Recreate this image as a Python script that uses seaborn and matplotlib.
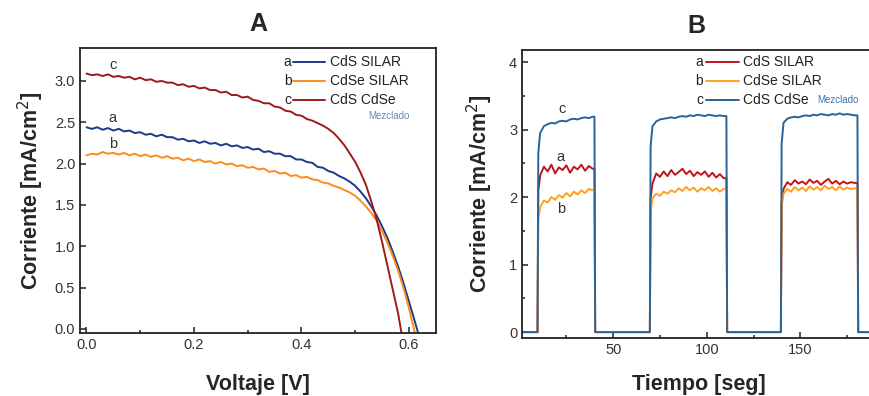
import numpy as np
import matplotlib
matplotlib.use('Agg')
import matplotlib.pyplot as plt
import seaborn as sns

# ---- Panel A: J-V curves (0.01 V steps, last point is Voc) ----
volt_a = list(np.round(np.arange(0, 0.615, 0.01), 2)) + [0.617]
curr_a = [2.44, 2.42, 2.44, 2.41, 2.43, 2.40, 2.42, 2.39, 2.40, 2.37, 2.38, 2.35, 2.36, 2.33,
          2.35, 2.32, 2.32, 2.29, 2.30, 2.27, 2.28, 2.25, 2.27, 2.24, 2.25, 2.22, 2.24, 2.21,
          2.22, 2.19, 2.20, 2.17, 2.18, 2.14, 2.15, 2.12, 2.12, 2.09, 2.09, 2.05, 2.05, 2.02,
          2.01, 1.96, 1.95, 1.91, 1.89, 1.85, 1.82, 1.78, 1.73, 1.66, 1.58, 1.48, 1.37, 1.24,
          1.10, 0.93, 0.75, 0.55, 0.33, 0.11, -0.05]

volt_b = list(np.round(np.arange(0, 0.605, 0.01), 2)) + [0.611]
curr_b = [2.10, 2.12, 2.11, 2.14, 2.12, 2.13, 2.11, 2.13, 2.10, 2.12, 2.09, 2.11, 2.08, 2.10,
          2.07, 2.09, 2.06, 2.07, 2.04, 2.06, 2.03, 2.05, 2.02, 2.03, 2.00, 2.02, 1.99, 2.00,
          1.97, 1.98, 1.95, 1.96, 1.93, 1.94, 1.90, 1.91, 1.88, 1.89, 1.85, 1.86, 1.83, 1.84,
          1.81, 1.80, 1.77, 1.76, 1.73, 1.71, 1.68, 1.65, 1.61, 1.55, 1.48, 1.40, 1.31, 1.18,
          1.04, 0.88, 0.70, 0.49, 0.25, -0.05]

volt_c = list(np.round(np.arange(0, 0.585, 0.01), 2)) + [0.586]
curr_c = [3.09, 3.07, 3.08, 3.06, 3.08, 3.05, 3.06, 3.04, 3.05, 3.02, 3.04, 3.01, 3.02, 2.99,
          3.00, 2.98, 2.98, 2.95, 2.96, 2.93, 2.94, 2.91, 2.92, 2.89, 2.89, 2.86, 2.87, 2.83,
          2.83, 2.80, 2.81, 2.77, 2.76, 2.73, 2.73, 2.69, 2.68, 2.64, 2.63, 2.59, 2.58, 2.54,
          2.52, 2.49, 2.46, 2.42, 2.37, 2.30, 2.22, 2.12, 2.02, 1.89, 1.74, 1.54, 1.32, 1.05,
          0.76, 0.47, 0.18, -0.05]

# ---- Panel B: photocurrent on/off ----
on_times = [10.0, 70.0, 140.0]
off_times = [40.0, 110.5, 180.5]
t_cycle1 = np.arange(11, 40, 2)
t_cycle2 = np.arange(71, 110, 2)
t_cycle3 = np.arange(141, 180, 2)

amp_a = [[2.32, 2.45, 2.38, 2.48, 2.35, 2.44, 2.40, 2.47, 2.36, 2.45, 2.41, 2.48, 2.39, 2.46, 2.42],
         [2.20, 2.35, 2.30, 2.38, 2.31, 2.40, 2.33, 2.37, 2.42, 2.34, 2.39, 2.31, 2.37, 2.33, 2.38,
          2.30, 2.36, 2.29, 2.34, 2.28],
         [2.12, 2.22, 2.18, 2.25, 2.20, 2.23, 2.19, 2.26, 2.21, 2.24, 2.18, 2.23, 2.27, 2.20, 2.24,
          2.19, 2.23, 2.20, 2.22, 2.21]]
amp_b = [[1.85, 1.95, 1.92, 2.00, 1.96, 2.03, 1.99, 2.06, 2.01, 2.08, 2.04, 2.10, 2.06, 2.12, 2.10],
         [1.98, 2.05, 2.02, 2.08, 2.05, 2.10, 2.07, 2.13, 2.09, 2.15, 2.10, 2.14, 2.08, 2.13, 2.10,
          2.15, 2.09, 2.13, 2.08, 2.12],
         [2.05, 2.12, 2.08, 2.15, 2.10, 2.14, 2.09, 2.16, 2.11, 2.15, 2.10, 2.17, 2.12, 2.15, 2.10,
          2.16, 2.11, 2.14, 2.12, 2.13]]
amp_c = [[2.95, 3.05, 3.08, 3.10, 3.09, 3.12, 3.13, 3.12, 3.15, 3.16, 3.15, 3.17, 3.18, 3.17, 3.19],
         [3.05, 3.12, 3.15, 3.16, 3.17, 3.18, 3.17, 3.19, 3.20, 3.19, 3.21, 3.20, 3.22, 3.21, 3.20,
          3.22, 3.21, 3.20, 3.21, 3.20],
         [3.10, 3.16, 3.18, 3.19, 3.18, 3.20, 3.21, 3.20, 3.22, 3.21, 3.23, 3.22, 3.21, 3.23, 3.22,
          3.24, 3.22, 3.23, 3.22, 3.21]]

labels = ['CdS SILAR', 'CdSe SILAR', 'CdS CdSe']
letters = ['a', 'b', 'c']
colors_a = ['#1c3a8a', '#ff8a1c', '#9e1a1a']
colors_b = ['#c0141c', '#ffa020', '#2a6496']


def onoff_series(amps):
    t, y = [1.5], [0.0]
    for on, off, tc, amp in zip(on_times, off_times, [t_cycle1, t_cycle2, t_cycle3], amps):
        t += [on - 0.4, on]
        y += [0.0, amp[0] * 0.9]
        t += list(tc)
        y += list(amp)
        t += [off, off + 0.4]
        y += [amp[-1], 0.0]
    t.append(190)
    y.append(0.0)
    return t, y


sns.set_theme(style='ticks')
plt.rcParams['font.family'] = ['Liberation Sans', 'DejaVu Sans']

fig = plt.figure(figsize=(8.7, 3.96), dpi=100)
ax1 = fig.add_axes([0.092, 0.159, 0.409, 0.720])
ax2 = fig.add_axes([0.600, 0.146, 0.406, 0.728])

for v, j, c in zip([volt_a, volt_b, volt_c], [curr_a, curr_b, curr_c], colors_a):
    sns.lineplot(x=v, y=j, ax=ax1, color=c, lw=1.4, estimator=None, sort=False)

for amps, c in zip([amp_a, amp_b, amp_c], colors_b):
    t, y = onoff_series(amps)
    sns.lineplot(x=t, y=y, ax=ax2, color=c, lw=1.4, estimator=None, sort=False)

ax1.set_xlim(-0.012, 0.65)
ax1.set_ylim(-0.05, 3.40)
ax1.set_xticks([0.0, 0.2, 0.4, 0.6])
ax1.set_yticks(np.arange(0, 3.01, 0.5))
ax1.set_xticks([0.1, 0.3, 0.5], minor=True)
ax1.xaxis.set_major_formatter(matplotlib.ticker.FormatStrFormatter('%.1f'))
ax1.yaxis.set_major_formatter(matplotlib.ticker.FormatStrFormatter('%.1f'))

ax2.set_xlim(1.3, 190)
ax2.set_ylim(-0.09, 4.18)
ax2.set_xticks([50, 100, 150])
ax2.set_xticks([25, 75, 125, 175], minor=True)
ax2.set_yticks([0, 1, 2, 3, 4])
ax2.set_yticks([0.5, 1.5, 2.5, 3.5], minor=True)

for ax in (ax1, ax2):
    for s in ax.spines.values():
        s.set_linewidth(1.3)
        s.set_color('#222222')
    ax.tick_params(which='both', direction='in', color='#222222', labelcolor='#333333',
                   labelsize=10.5, width=1.1)
    ax.tick_params(which='major', length=4)
    ax.tick_params(which='minor', length=2.5)

ax1.set_ylabel('Corriente [mA/cm$^2$]', fontsize=15.5, fontweight='bold', labelpad=6)
ax2.set_ylabel('Corriente [mA/cm$^2$]', fontsize=15.5, fontweight='bold', labelpad=10)
ax1.set_xlabel('Voltaje [V]', fontsize=15.5, fontweight='bold', labelpad=16)
ax2.set_xlabel('Tiempo [seg]', fontsize=15.5, fontweight='bold', labelpad=12)
ax1.set_title('A', fontsize=18, fontweight='bold', pad=12)
fig.text(0.800, 0.935, 'B', fontsize=18, fontweight='bold', ha='center', va='center')

# curve letters
ax1.text(0.049, 3.19, 'c', fontsize=10.5, color='#333333', ha='center', va='center')
ax1.text(0.049, 2.55, 'a', fontsize=10.5, color='#333333', ha='center', va='center')
ax1.text(0.049, 2.24, 'b', fontsize=10.5, color='#333333', ha='center', va='center')
ax2.text(22.7, 3.30, 'c', fontsize=10.5, color='#333333', ha='center', va='center')
ax2.text(22.0, 2.60, 'a', fontsize=10.5, color='#333333', ha='center', va='center')
ax2.text(22.0, 1.83, 'b', fontsize=10.5, color='#333333', ha='center', va='center')

# hand-drawn legends
rows_a = [0.951, 0.884, 0.818]
for lt, lab, c, yy in zip(letters, labels, colors_a, rows_a):
    ax1.text(0.594, yy, lt, transform=ax1.transAxes, fontsize=10, ha='right', va='center', color='#222222')
    ax1.plot([0.598, 0.688], [yy, yy], transform=ax1.transAxes, color=c, lw=1.4)
    ax1.text(0.702, yy, lab, transform=ax1.transAxes, fontsize=10, ha='left', va='center', color='#222222')
ax1.text(0.868, 0.761, 'Mezclado', transform=ax1.transAxes, fontsize=7, ha='center', va='center',
         color='#6a84b0')

rows_b = [0.958, 0.892, 0.826]
for lt, lab, c, yy in zip(letters, labels, colors_b, rows_b):
    ax2.text(0.513, yy, lt, transform=ax2.transAxes, fontsize=10, ha='right', va='center', color='#222222')
    ax2.plot([0.520, 0.615], [yy, yy], transform=ax2.transAxes, color=c, lw=1.4)
    ax2.text(0.626, yy, lab, transform=ax2.transAxes, fontsize=10, ha='left', va='center', color='#222222')
ax2.text(0.836, 0.826, 'Mezclado', transform=ax2.transAxes, fontsize=7, ha='left', va='center',
         color='#3a70b0')

fig.savefig('out.png', dpi=100)
